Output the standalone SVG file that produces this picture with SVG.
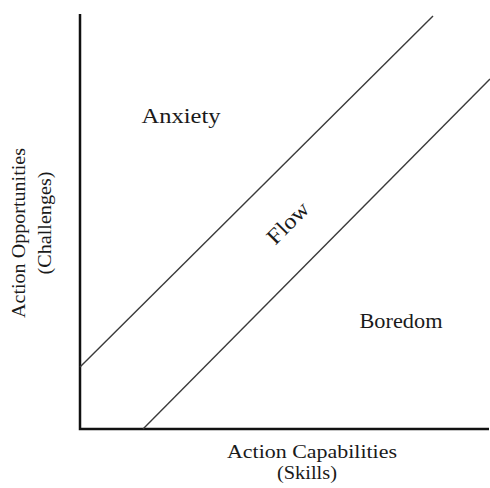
<svg xmlns="http://www.w3.org/2000/svg" width="490" height="488" viewBox="0 0 490 488">
<style>
.t{font-family:"Liberation Serif","Times New Roman",serif;fill:#1a1a1a}
.axis{stroke:#111;stroke-width:2.5;fill:none}
.diag{stroke:#3a3a3a;stroke-width:1.4;fill:none}
</style>
<rect width="490" height="488" fill="#fff"/>
<g id="connectors">
<path class="axis" d="M80,14 V429 H489"/>
<line class="diag" x1="80" y1="367" x2="433" y2="16"/>
<line class="diag" x1="143" y1="429" x2="490" y2="79"/>
</g>
<g id="anxiety"><text class="t" x="181" y="123" font-size="22" text-anchor="middle" textLength="79" lengthAdjust="spacingAndGlyphs">Anxiety</text></g>
<g id="flow"><text class="t" x="0" y="0" font-size="22" text-anchor="middle" textLength="50" lengthAdjust="spacingAndGlyphs" transform="translate(293,228) rotate(-45)">Flow</text></g>
<g id="boredom"><text class="t" x="401" y="328" font-size="22" text-anchor="middle" textLength="83" lengthAdjust="spacingAndGlyphs">Boredom</text></g>
<g id="x-label">
<text class="t" x="312" y="458" font-size="18" text-anchor="middle" textLength="170" lengthAdjust="spacingAndGlyphs">Action Capabilities</text>
<text class="t" x="307" y="479" font-size="18" text-anchor="middle" textLength="60" lengthAdjust="spacingAndGlyphs">(Skills)</text>
</g>
<g id="y-label">
<text class="t" x="0" y="0" font-size="18" text-anchor="middle" textLength="170" lengthAdjust="spacingAndGlyphs" transform="translate(25,233) rotate(-90)">Action Opportunities</text>
<text class="t" x="0" y="0" font-size="18" text-anchor="middle" textLength="103" lengthAdjust="spacingAndGlyphs" transform="translate(51,223) rotate(-90)">(Challenges)</text>
</g>
</svg>
